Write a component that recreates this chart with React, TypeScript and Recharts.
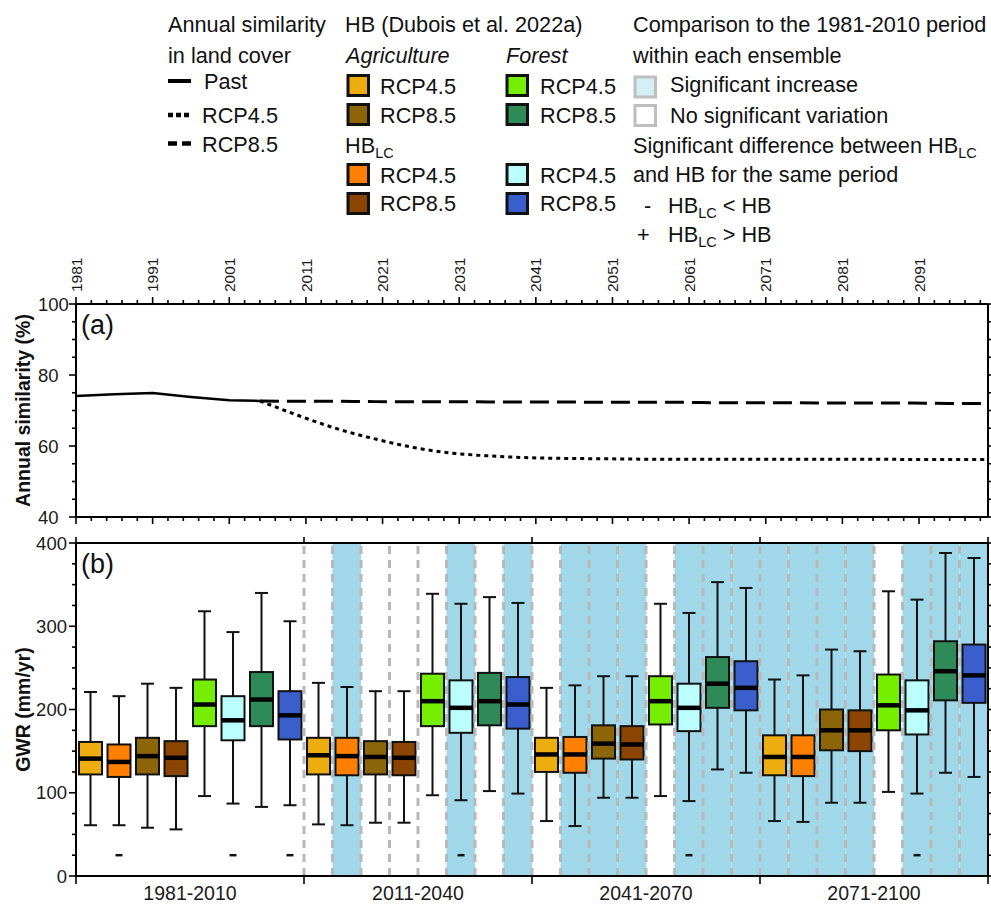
import React from 'react';
import { ComposedChart, Line, Bar, XAxis, YAxis, ReferenceArea, ReferenceLine } from 'recharts';

const FONT = "'Liberation Sans', Arial, Helvetica, sans-serif";

// ---------- Panel (a): annual similarity in land cover ----------
const simYears = [1981, 1986, 1991, 1996, 2001, 2005, 2010, 2015, 2020, 2025, 2030, 2035, 2040, 2045, 2050, 2055, 2060, 2065, 2070, 2075, 2080, 2085, 2090, 2095, 2100];
const pastSim = [74.1, 74.6, 74.9, 73.8, 72.9, 72.7, null, null, null, null, null, null, null, null, null, null, null, null, null, null, null, null, null, null, null];
const rcp45Sim = [null, null, null, null, null, 72.7, 68.6, 64.9, 62.0, 59.6, 58.0, 57.2, 56.7, 56.5, 56.4, 56.3, 56.3, 56.3, 56.3, 56.3, 56.3, 56.3, 56.2, 56.2, 56.2];
const rcp85Sim = [null, null, null, null, null, 72.7, 72.6, 72.6, 72.5, 72.5, 72.5, 72.4, 72.4, 72.4, 72.3, 72.3, 72.3, 72.2, 72.2, 72.2, 72.1, 72.1, 72.1, 72.0, 72.0];
const labeledYears = [1981, 1991, 2001, 2011, 2021, 2031, 2041, 2051, 2061, 2071, 2081, 2091];
const yearTicks = Array.from({ length: 60 }, (_, i) => 1981 + 2 * i);
const simTicks = [40, 45, 50, 55, 60, 65, 70, 75, 80, 85, 90, 95, 100];
const simLabeled = [40, 60, 80, 100];

// ---------- Panel (b): GWR box plots ----------
const periods = ['1981-2010', '2011-2040', '2041-2070', '2071-2100'];
const ensembles = ['Agri HB RCP4.5', 'Agri HBLC RCP4.5', 'Agri HB RCP8.5', 'Agri HBLC RCP8.5', 'Forest HB RCP4.5', 'Forest HBLC RCP4.5', 'Forest HB RCP8.5', 'Forest HBLC RCP8.5'];
const ensembleColors = ['#EEAD0E', '#FF7F00', '#8B6508', '#8B4500', '#76EE00', '#BBFFFF', '#2E8B57', '#3A5FCD'];

const gwrMin = [61, 61, 58, 56, 96, 87, 83, 85, 62, 61, 64, 64, 97, 91, 102, 99, 66, 60, 94, 94, 96, 90, 128, 124, 66, 65, 88, 88, 101, 99, 124, 119];
const gwrQ1 = [122, 119, 122, 120, 180, 163, 180, 164, 122, 121, 122, 121, 180, 172, 181, 177, 125, 124, 141, 140, 182, 174, 202, 199, 121, 120, 151, 150, 175, 170, 211, 208];
const gwrMed = [141, 137, 144, 142, 206, 187, 212, 193, 145, 144, 143, 142, 210, 202, 210, 206, 146, 146, 159, 158, 210, 202, 231, 226, 143, 143, 175, 175, 205, 199, 246, 241];
const gwrQ3 = [161, 158, 166, 162, 236, 216, 245, 222, 166, 166, 162, 161, 243, 235, 244, 239, 166, 167, 181, 180, 240, 231, 263, 258, 169, 169, 200, 199, 242, 235, 282, 278];
const gwrMax = [221, 216, 231, 226, 318, 293, 340, 306, 232, 227, 222, 222, 339, 327, 335, 328, 226, 229, 240, 240, 327, 316, 353, 346, 236, 241, 272, 270, 342, 332, 388, 382];
// significant increase compared to 1981-2010 (shaded)
const sigIncrease = [false, false, false, false, false, false, false, false,
  false, true, false, false, false, true, false, true,
  false, true, true, true, false, true, true, true,
  true, true, true, true, false, true, true, true];
// significant difference HBLC vs HB
const hbDiff = ['', '-', '', '', '', '-', '', '-',
  '', '', '', '', '', '-', '', '',
  '', '', '', '', '', '-', '', '',
  '', '', '', '', '', '-', '', ''];
const diffMarkValue = 25;
const gwrTicks = [0, 25, 50, 75, 100, 125, 150, 175, 200, 225, 250, 275, 300, 325, 350, 375, 400];

const simRows = simYears.map((year, i) => ({ year, past: pastSim[i], rcp45: rcp45Sim[i], rcp85: rcp85Sim[i] }));
const gwrRows = gwrMin.map((_, i) => ({
  slot: `${periods[Math.floor(i / 8)]} | ${ensembles[i % 8]}`,
  idx: i,
  min: gwrMin[i], q1: gwrQ1[i], med: gwrMed[i], q3: gwrQ3[i], max: gwrMax[i],
  range: [gwrMin[i], gwrMax[i]],
  diff: hbDiff[i],
}));

const AXIS = { stroke: '#000', strokeWidth: 2 };
const TICK_COLOR = '#1a1a1a';
const TINY = 0.001;

const TopYearTick = (props: any) => {
  const { x, y, payload } = props;
  const v = payload.value;
  const major = labeledYears.includes(v);
  return (
    <g>
      <line x1={x} x2={x} y1={y} y2={y - (major ? 7 : 4)} stroke="#000" strokeWidth={1.6} />
      {major && (
        <text x={0} y={0} transform={`translate(${x + 5.6},${y - 12}) rotate(-90)`} textAnchor="start" fontSize={15.5} fontFamily={FONT} fill={TICK_COLOR}>{v}</text>
      )}
    </g>
  );
};
const BottomYearTick = (props: any) => {
  const { x, y, payload } = props;
  const major = labeledYears.includes(payload.value);
  return <line x1={x} x2={x} y1={y} y2={y + (major ? 7 : 4)} stroke="#000" strokeWidth={1.6} />;
};
const LeftSimTick = (props: any) => {
  const { x, y, payload } = props;
  const v = payload.value;
  const major = simLabeled.includes(v);
  return (
    <g>
      <line x1={x} x2={x - (major ? 7 : 4)} y1={y} y2={y} stroke="#000" strokeWidth={1.6} />
      {major && <text x={x - 38} y={y} dy="0.36em" textAnchor="start" fontSize={18.5} fontFamily={FONT} fill={TICK_COLOR}>{v}</text>}
    </g>
  );
};
const RightTick = (props: any) => {
  const { x, y } = props;
  return <line x1={x} x2={x + 3} y1={y} y2={y} stroke="#000" strokeWidth={1.6} />;
};
const LeftGwrTick = (props: any) => {
  const { x, y, payload } = props;
  const v = payload.value;
  const major = v % 100 === 0;
  return (
    <g>
      <line x1={x} x2={x - (major ? 7 : 4)} y1={y} y2={y} stroke="#000" strokeWidth={1.6} />
      {major && <text x={x - 9} y={y} dy="0.36em" textAnchor="end" fontSize={18.5} fontFamily={FONT} fill={TICK_COLOR}>{v}</text>}
    </g>
  );
};
const halfBand = (payload: any) => (payload && payload.offset ? payload.offset : 14.25);
const PeriodTick = (props: any) => {
  const { x, y, payload, index } = props;
  const h = halfBand(payload);
  return (
    <g>
      {index % 8 === 0 && <line x1={x - h} x2={x - h} y1={y} y2={y + 8} stroke="#000" strokeWidth={1.6} />}
      {index === gwrRows.length - 1 && <line x1={x + h} x2={x + h} y1={y} y2={y + 8} stroke="#000" strokeWidth={1.6} />}
      {index % 8 === 3 && (
        <text x={x + h} y={y + 24} textAnchor="middle" fontSize={19.5} fontFamily={FONT} fill={TICK_COLOR}>{periods[Math.floor(index / 8)]}</text>
      )}
    </g>
  );
};
const TopPeriodTick = (props: any) => {
  const { x, y, payload, index } = props;
  const h = halfBand(payload);
  return (
    <g>
      {index % 8 === 0 && <line x1={x - h} x2={x - h} y1={y} y2={y - 6} stroke="#000" strokeWidth={1.6} />}
      {index === gwrRows.length - 1 && <line x1={x + h} x2={x + h} y1={y} y2={y - 6} stroke="#000" strokeWidth={1.6} />}
    </g>
  );
};

const axisTitle = (text: string) => (props: any) => {
  const vb = props.viewBox || {};
  const cx = (vb.x ?? 0) + 23;
  const cy = (vb.y ?? 0) + (vb.height ?? 0) / 2;
  return (
    <text x={cx} y={cy} transform={`rotate(-90, ${cx}, ${cy})`} textAnchor="middle" dominantBaseline="central" fontWeight="bold" fontSize={19.5} fontFamily={FONT} fill="#111">{text}</text>
  );
};

const BoxShape = (props: any) => {
  const { x, y, width, height, payload } = props;
  if (x == null || y == null) return null;
  const top = Math.min(y, y + height);
  const bot = Math.max(y, y + height);
  const lo = payload.min;
  const hi = payload.max;
  const py = (v: number) => bot - ((v - lo) / (hi - lo)) * (bot - top);
  const cx = x + width / 2;
  const cap = 6.5;
  const color = ensembleColors[payload.idx % 8];
  return (
    <g>
      <line x1={cx} x2={cx} y1={py(hi)} y2={py(payload.q3)} stroke="#111" strokeWidth={2} />
      <line x1={cx} x2={cx} y1={py(payload.q1)} y2={py(lo)} stroke="#111" strokeWidth={2} />
      <line x1={cx - cap} x2={cx + cap} y1={py(hi)} y2={py(hi)} stroke="#111" strokeWidth={2} />
      <line x1={cx - cap} x2={cx + cap} y1={py(lo)} y2={py(lo)} stroke="#111" strokeWidth={2} />
      <rect x={x} y={py(payload.q3)} width={width} height={py(payload.q1) - py(payload.q3)} fill={color} stroke="#111" strokeWidth={2} />
      <line x1={x} x2={x + width} y1={py(payload.med)} y2={py(payload.med)} stroke="#000" strokeWidth={4.5} />
      {payload.diff === '-' && (
        <line x1={cx - 3.5} x2={cx + 3.5} y1={py(diffMarkValue)} y2={py(diffMarkValue)} stroke="#111" strokeWidth={2.5} />
      )}
      {payload.diff === '+' && (
        <text x={cx} y={py(diffMarkValue)} dy="0.35em" textAnchor="middle" fontSize={16} fontFamily={FONT}>+</text>
      )}
    </g>
  );
};

const Sub = ({ children }: any) => <tspan fontSize={14.5} dy={5}>{children}</tspan>;

const Overlay = () => {
  const sq = (x: number, y: number, fill: string, stroke = '#111') => (
    <rect x={x} y={y} width={20.5} height={20} fill={fill} stroke={stroke} strokeWidth={3} />
  );
  return (
    <svg width={991} height={904} style={{ position: 'absolute', left: 0, top: 0, pointerEvents: 'none' }} fontFamily={FONT} fontSize={21.7} fill="#111">
      {/* column 1 */}
      <text x={168} y={31.5}>Annual similarity</text>
      <text x={168} y={62.5}>in land cover</text>
      <line x1={168} x2={191} y1={81} y2={81} stroke="#000" strokeWidth={4} />
      <text x={204} y={89.3}>Past</text>
      <line x1={168} x2={191} y1={115} y2={115} stroke="#000" strokeWidth={4.5} strokeDasharray="5 3" />
      <text x={202} y={122.7}>RCP4.5</text>
      <line x1={168} x2={191} y1={143.5} y2={143.5} stroke="#000" strokeWidth={4.5} strokeDasharray="9 5" />
      <text x={202} y={152}>RCP8.5</text>
      {/* column 2 */}
      <text x={345} y={31.5}>HB (Dubois et al. 2022a)</text>
      <text x={346} y={62.5} fontStyle="italic">Agriculture</text>
      {sq(348, 75.5, ensembleColors[0])}
      <text x={380} y={94}>RCP4.5</text>
      {sq(348, 104.5, ensembleColors[2])}
      <text x={380} y={122.7}>RCP8.5</text>
      <text x={345} y={152.7}>HB<Sub>LC</Sub></text>
      {sq(348, 164.5, ensembleColors[1])}
      <text x={380} y={182.7}>RCP4.5</text>
      {sq(348, 193.5, ensembleColors[3])}
      <text x={380} y={211}>RCP8.5</text>
      {/* column 3 */}
      <text x={506} y={62.5} fontStyle="italic">Forest</text>
      {sq(507, 75.5, ensembleColors[4])}
      <text x={540} y={94}>RCP4.5</text>
      {sq(507, 104.5, ensembleColors[6])}
      <text x={540} y={122.7}>RCP8.5</text>
      {sq(507, 164.5, ensembleColors[5])}
      <text x={540} y={182.7}>RCP4.5</text>
      {sq(507, 193.5, ensembleColors[7])}
      <text x={540} y={211}>RCP8.5</text>
      {/* column 4 */}
      <text x={633} y={31.5}>Comparison to the 1981-2010 period</text>
      <text x={633} y={62.5}>within each ensemble</text>
      {sq(635, 77, '#D4F0F5', '#BEBEBE')}
      <text x={670} y={92}>Significant increase</text>
      {sq(635, 105.5, '#FFFFFF', '#BEBEBE')}
      <text x={670} y={122.7}>No significant variation</text>
      <text x={633} y={153}>Significant difference between HB<Sub>LC</Sub></text>
      <text x={633} y={182}>and HB for the same period</text>
      <text x={644} y={213}>-</text>
      <text x={668} y={213}>HB<Sub>LC</Sub><tspan dy={-5}>{' < HB'}</tspan></text>
      <text x={637} y={242}>+</text>
      <text x={668} y={242}>HB<Sub>LC</Sub><tspan dy={-5}>{' > HB'}</tspan></text>
      {/* panel letters */}
      <text x={81} y={334} fontSize={27}>(a)</text>
      <text x={81} y={573} fontSize={27}>(b)</text>
    </svg>
  );
};

export default function App() {
  return (
    <div style={{ position: 'absolute', left: 0, top: 0, width: 991, height: 904, background: '#fff', fontFamily: FONT }}>
      <div style={{ position: 'absolute', left: 0, top: 240 }}>
        <ComposedChart width={991} height={290} data={simRows} margin={{ top: 0, right: 0, bottom: 0, left: 0 }}>
          <XAxis xAxisId="top" orientation="top" type="number" dataKey="year" domain={[1981, 2100]} allowDataOverflow ticks={yearTicks} interval={0} height={64} tickSize={TINY} tickMargin={TINY} tickLine={false} axisLine={AXIS} tick={TopYearTick} />
          <XAxis xAxisId="bottom" orientation="bottom" type="number" dataKey="year" domain={[1981, 2100]} allowDataOverflow ticks={yearTicks} interval={0} height={13} tickSize={TINY} tickMargin={TINY} tickLine={false} axisLine={AXIS} tick={BottomYearTick} />
          <YAxis yAxisId="left" orientation="left" type="number" domain={[40, 100]} allowDataOverflow ticks={simTicks} interval={0} width={76} tickSize={TINY} tickMargin={TINY} tickLine={false} axisLine={AXIS} tick={LeftSimTick} label={axisTitle('Annual similarity (%)')} />
          <YAxis yAxisId="right" orientation="right" type="number" domain={[40, 100]} allowDataOverflow ticks={simTicks} interval={0} width={3} tickSize={TINY} tickMargin={TINY} tickLine={false} axisLine={AXIS} tick={RightTick} />
          <Line xAxisId="top" yAxisId="left" dataKey="past" type="linear" stroke="#000" strokeWidth={2.5} dot={false} connectNulls={false} isAnimationActive={false} />
          <Line xAxisId="top" yAxisId="left" dataKey="rcp85" type="monotone" stroke="#000" strokeWidth={3} strokeDasharray="19 8" dot={false} connectNulls={false} isAnimationActive={false} />
          <Line xAxisId="top" yAxisId="left" dataKey="rcp45" type="monotone" stroke="#000" strokeWidth={3} strokeDasharray="4 4" dot={false} connectNulls={false} isAnimationActive={false} />
        </ComposedChart>
      </div>
      <div style={{ position: 'absolute', left: 0, top: 530 }}>
        <ComposedChart width={991} height={374} data={gwrRows} margin={{ top: 0, right: 0, bottom: 0, left: 0 }}>
          <XAxis xAxisId="cat" orientation="bottom" type="category" dataKey="slot" interval={0} height={28} tickSize={TINY} tickMargin={TINY} tickLine={false} axisLine={AXIS} tick={PeriodTick} />
          <XAxis xAxisId="catTop" orientation="top" type="category" dataKey="slot" interval={0} height={13} tickSize={TINY} tickMargin={TINY} tickLine={false} axisLine={AXIS} tick={TopPeriodTick} />
          <YAxis yAxisId="left" orientation="left" type="number" domain={[0, 400]} allowDataOverflow ticks={gwrTicks} interval={0} width={76} tickSize={TINY} tickMargin={TINY} tickLine={false} axisLine={AXIS} tick={LeftGwrTick} label={axisTitle('GWR (mm/yr)')} />
          <YAxis yAxisId="right" orientation="right" type="number" domain={[0, 400]} allowDataOverflow ticks={gwrTicks} interval={0} width={3} tickSize={TINY} tickMargin={TINY} tickLine={false} axisLine={AXIS} tick={RightTick} />
          {gwrRows.map((r) => sigIncrease[r.idx] ? (
            <ReferenceArea key={`a${r.idx}`} xAxisId="cat" yAxisId="left" x1={r.slot} x2={r.slot} y1={0} y2={400} fill="#A0D8EA" fillOpacity={1} stroke="none" />
          ) : null)}
          {gwrRows.slice(8).map((r) => (
            <ReferenceLine key={`l${r.idx}`} xAxisId="cat" yAxisId="left" x={r.slot} position="start" stroke="#B8B8B8" strokeWidth={3} strokeDasharray="8 6" />
          ))}
          <Bar xAxisId="cat" yAxisId="left" dataKey="range" barSize={23} shape={BoxShape} isAnimationActive={false} />
        </ComposedChart>
      </div>
      <Overlay />
    </div>
  );
}
